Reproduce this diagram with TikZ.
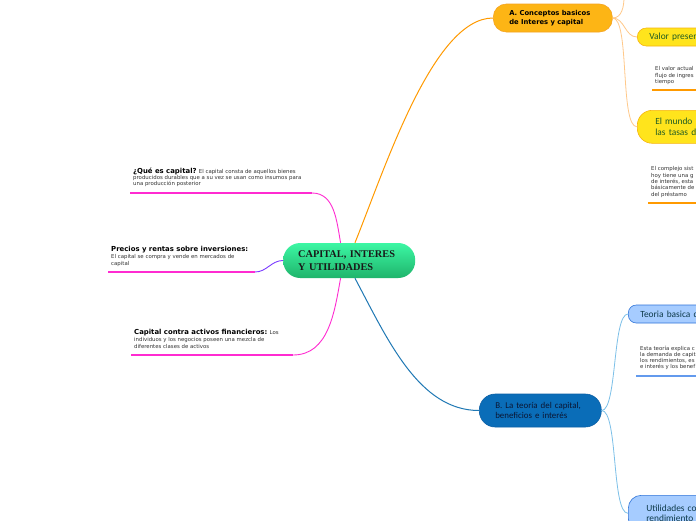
\documentclass[tikz,border=0pt]{standalone}
\usepackage{fontspec}
\setmainfont{DejaVu Sans}
\newfontfamily\calibrif{Carlito}
\newfontfamily\timesf{Liberation Serif}

\definecolor{capgreenT}{HTML}{3CF7A4}
\definecolor{capgreenB}{HTML}{1FB46B}
\definecolor{orangefill}{HTML}{FDB515}
\definecolor{orangeedge}{HTML}{F5A320}
\definecolor{orangeline}{HTML}{FF9A00}
\definecolor{orangelight}{HTML}{FFC98A}
\definecolor{yellowfill}{HTML}{FFE41C}
\definecolor{yellowedge}{HTML}{F6B40E}
\definecolor{yellowtext}{HTML}{1F5B24}
\definecolor{pinkline}{HTML}{FF2BD1}
\definecolor{violetline}{HTML}{7B3BFF}
\definecolor{bluefill}{HTML}{0A6DB8}
\definecolor{blueedge}{HTML}{0B5FA5}
\definecolor{bluetext}{HTML}{0B1633}
\definecolor{blueline}{HTML}{1F78B4}
\definecolor{skyfill}{HTML}{A6CCFF}
\definecolor{skyedge}{HTML}{2F74D8}
\definecolor{skytext}{HTML}{0E3A4A}
\definecolor{skyline}{HTML}{7CC0E8}
\definecolor{notegrey}{HTML}{333333}

\tikzset{
    mainbox/.style={rounded corners=17pt, top color=capgreenT, bottom color=capgreenB,
        minimum width=131pt, minimum height=35pt, inner xsep=15pt, inner ysep=0pt,
        text width=102pt, align=left, text=black!90,
        font=\timesf\bfseries\fontsize{10.3}{12.5}\selectfont},
    topicA/.style={rounded corners=13pt, fill=orangefill, draw=orangeedge, line width=0.6pt,
        minimum width=119pt, minimum height=28pt, inner xsep=16pt, inner ysep=0pt,
        text width=87pt, align=left,
        font=\bfseries\fontsize{6.8}{8.5}\selectfont},
    subyellow/.style={fill=yellowfill, draw=yellowedge, line width=0.6pt,
        inner ysep=0pt, text width=70pt, align=left, text=yellowtext,
        font=\calibrif\fontsize{9.4}{11}\selectfont},
    topicB/.style={rounded corners=16pt, fill=bluefill, draw=blueedge, line width=0.6pt,
        minimum width=122pt, minimum height=33pt, inner xsep=16pt, inner ysep=0pt,
        text width=90pt, align=left, text=bluetext,
        font=\calibrif\fontsize{8.9}{10.5}\selectfont},
    subsky/.style={fill=skyfill, draw=skyedge, line width=0.6pt,
        inner ysep=0pt, text width=70pt, align=left, text=skytext,
        font=\calibrif\fontsize{9.4}{10.5}\selectfont},
    notetxt/.style={anchor=north west, inner sep=0pt, align=left, text=notegrey,
        font=\fontsize{5.4}{6.3}\selectfont},
}
\newcommand{\headtxt}[1]{{\color{black}\bfseries\fontsize{6.9}{7.5}\selectfont #1}}

\begin{document}
\begin{tikzpicture}[x=1pt,y=1pt]
    \clip (0,0) rectangle (696,-520);
    \fill[white] (0,0) rectangle (696,-520);

    % central topic
    \node[mainbox, anchor=west] (cap) at (283,-260.5) {CAPITAL, INTERES\\Y UTILIDADES};

    % branch A (top right)
    \node[topicA, anchor=west] (conceptos) at (493,-18) {A. Conceptos basicos\\de Interes y capital};
    \coordinate (aup) at (624,3);
    \node[subyellow, rounded corners=9pt, minimum height=18pt, inner xsep=12pt, anchor=west]
        (valor) at (637,-37) {Valor presen};
    \node[subyellow, rounded corners=15pt, minimum height=33pt, inner xsep=18pt, anchor=north west]
        (mundo) at (637,-110) {El mundo r\\las tasas de};
    \node[notetxt] (valortxt) at (655,-66.5) {El valor actual\\flujo de ingres\\tiempo};
    \node[notetxt] (complejotxt) at (651,-166.5) {El complejo sist\\hoy tiene una g\\de interés, esta\\básicamente de\\del préstamo};
    \coordinate (valorl) at (652,-90);
    \coordinate (valorr) at (700,-90);
    \coordinate (complejol) at (648,-203);
    \coordinate (complejor) at (700,-203);

    % branch B (bottom right)
    \node[topicB, anchor=west] (teoriaB) at (479,-410.5) {\hyphenpenalty=10000 B. La teoría del capital,\\beneficios e interés};
    \node[subsky, rounded corners=8pt, minimum height=18pt, inner xsep=12pt, anchor=west]
        (basica) at (628,-314) {Teoria basica d};
    \node[subsky, rounded corners=13pt, minimum height=36pt, inner xsep=18pt, anchor=north west]
        (utilidades) at (628,-495) {Utilidades co\\rendimiento};
    \node[notetxt] (teoriatxt) at (640,-345.5) {Esta teoría explica c\\la demanda de capit\\los rendimientos, es\\e interés y los benef};
    \coordinate (teorial) at (636,-376);
    \coordinate (teoriar) at (700,-376);

    % left notes
    \node[notetxt] (quees) at (133,-167.5)
        {\headtxt{¿Qué es capital?} El capital consta de aquellos bienes\\producidos durables que a su vez se usan como insumos para\\una producción posterior};
    \node[notetxt] (precios) at (111,-246.5)
        {\headtxt{Precios y rentas sobre inversiones:}\\[0.6pt]El capital se compra y vende en mercados de\\capital};
    \node[notetxt] (activos) at (134,-329.5)
        {\headtxt{Capital contra activos financieros:} Los\\[0.6pt]individuos y los negocios poseen una mezcla de\\diferentes clases de activos};
    \coordinate (queesl) at (130,-193);
    \coordinate (queesr) at (312,-193);
    \coordinate (preciosl) at (108,-272);
    \coordinate (preciosr) at (255,-272);
    \coordinate (activosl) at (131,-355);
    \coordinate (activosr) at (293,-355);

    % connectors
    \draw[orangeline, line width=1pt] (cap.72) to[out=68,in=180,out distance=80,in distance=60] (conceptos.west);
    \draw[blueline, line width=1pt] (cap.-72) to[out=-62,in=180,out distance=70,in distance=60] (teoriaB.west);
    \draw[pinkline, line width=0.9pt] (cap.116) to[out=100,in=0] (queesr);
    \draw[violetline, line width=0.9pt] (cap.west) to[out=180,in=0] (preciosr);
    \draw[pinkline, line width=0.9pt] (cap.-116) to[out=-100,in=0] (activosr);

    \draw[orangelight, line width=0.8pt] (conceptos.east) to[out=0,in=-90] (aup);
    \draw[orangelight, line width=0.8pt] (conceptos.east) to[out=0,in=180] (valor.west);
    \draw[orangelight, line width=0.8pt] (conceptos.east) to[out=0,in=180,looseness=0.4] (mundo.west);
    \draw[skyline, line width=0.8pt] (teoriaB.east) to[out=0,in=180,looseness=0.4] (basica.west);
    \draw[skyline, line width=0.8pt] (teoriaB.east) to[out=0,in=180,looseness=0.4] (utilidades.west);

    % underlines of the notes
    \draw[pinkline, line width=1.5pt] (queesl) -- (queesr);
    \draw[pinkline, line width=1.5pt] (preciosl) -- (preciosr);
    \draw[pinkline, line width=1.5pt] (activosl) -- (activosr);
    \draw[orangeline, line width=1.2pt] (valorl) -- (valorr);
    \draw[orangeline, line width=1.2pt] (complejol) -- (complejor);
    \draw[skyline!80!blue, line width=1.2pt] (teorial) -- (teoriar);
\end{tikzpicture}
\end{document}
